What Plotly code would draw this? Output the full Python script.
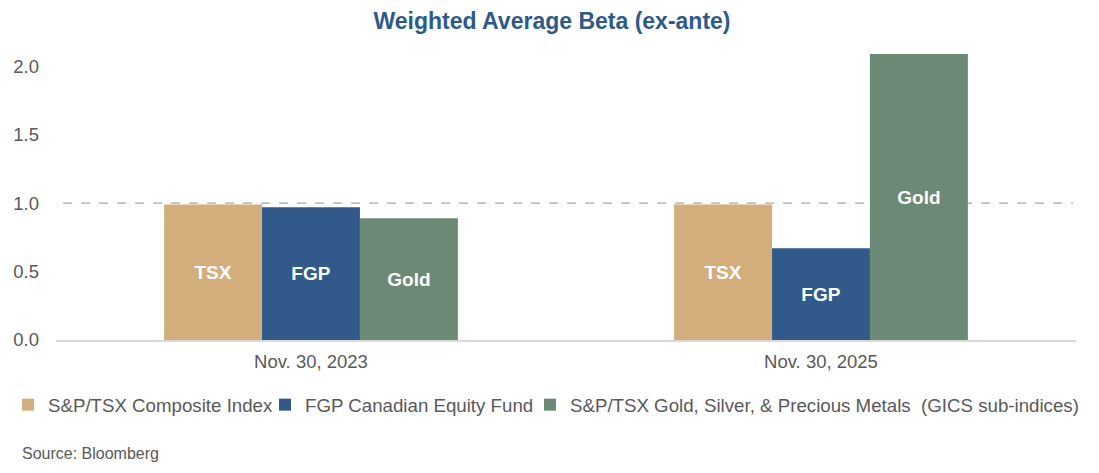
import plotly.graph_objects as go

categories = ["Nov. 30, 2023", "Nov. 30, 2025"]
series_names = [
    "S&P/TSX Composite Index",
    "FGP Canadian Equity Fund",
    "S&P/TSX Gold, Silver, & Precious Metals  (GICS sub-indices)",
]
bar_labels = ["TSX", "FGP", "Gold"]
tsx_values = [0.99, 0.99]
fgp_values = [0.97, 0.67]
gold_values = [0.89, 2.09]
colors = ["#D3AE7C", "#31598A", "#6C8975"]
y_ticks = [0.0, 0.5, 1.0, 1.5, 2.0]
reference_beta = 1.0

# page has an 8px body margin, so the figure is 8px smaller
W, H = 1091, 465
L, R, T, B = 48, 23, 31, 133
PW, PH = W - L - R, H - T - B

FONT = "Liberation Sans, Arial, sans-serif"
legend_ids = ["legend", "legend2", "legend3"]
legend_x_px = [0, 257, 522]

fig = go.Figure()
for name, lab, vals, col, lid in zip(series_names, bar_labels,
                                     [tsx_values, fgp_values, gold_values],
                                     colors, legend_ids):
    fig.add_trace(go.Bar(
        x=categories, y=vals, name=name, legend=lid,
        marker=dict(color=col, line=dict(width=0)),
        text=[lab] * len(vals), textposition="inside",
        insidetextanchor="middle", textangle=0,
        textfont=dict(family=FONT, size=19, color="white", weight="bold"),
        hoverinfo="x+y+name",
    ))

fig.add_shape(type="line", xref="paper", yref="y", x0=0.007, x1=0.997,
              y0=reference_beta, y1=reference_beta, layer="below",
              line=dict(color="#A6A6A6", width=1.2, dash="dash"))

fig.add_annotation(text="Source: Bloomberg", xref="paper", yref="paper",
                   x=(12 - L) / PW, y=-(445 - (H - B)) / PH,
                   xanchor="left", yanchor="middle", showarrow=False,
                   font=dict(family=FONT, size=16, color="#595959"))

legend_common = dict(orientation="h", xref="container", yref="container",
                     xanchor="left", y=1 - 397 / H, yanchor="middle",
                     font=dict(family=FONT, size=18.7, color="#595959"),
                     itemwidth=30, bgcolor="rgba(0,0,0,0)")
legends = {lid: dict(legend_common, x=xp / W)
           for lid, xp in zip(legend_ids, legend_x_px)}

fig.update_layout(
    width=W, height=H,
    margin=dict(l=L, r=R, t=T, b=B, autoexpand=False),
    paper_bgcolor="white", plot_bgcolor="white",
    barmode="group", bargap=0.424, bargroupgap=0,
    font=dict(family=FONT, color="#595959"),
    title=dict(text="<b>Weighted Average Beta (ex-ante)</b>",
               x=544 / W, xanchor="center", y=1 - 12.5 / H, yanchor="middle",
               font=dict(size=23, color="#2E5A8A")),
    uniformtext=dict(minsize=10, mode="show"),
    showlegend=True,
    **legends,
    xaxis=dict(showgrid=False, showline=True, linecolor="#D9D9D9",
               linewidth=1.5, ticks="", ticklabelstandoff=4,
               tickfont=dict(size=18.5, color="#595959"), zeroline=False),
    yaxis=dict(range=[0, 2.2], tickvals=y_ticks,
               ticktext=[f"{v:.1f}" for v in y_ticks],
               showgrid=False, showline=False, zeroline=False, ticks="",
               ticklabelstandoff=16,
               tickfont=dict(size=18.5, color="#595959")),
)

fig.write_html("out.html")
